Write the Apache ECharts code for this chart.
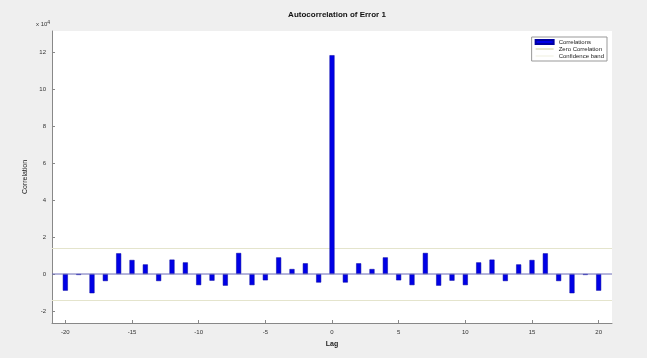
<!DOCTYPE html>
<html>
<head>
<meta charset="utf-8">
<script src="https://cdn.jsdelivr.net/npm/echarts@6/dist/echarts.min.js"></script>
<style>
html,body{margin:0;padding:0;background:#efefef;}
#c{width:647px;height:358px;}
</style>
</head>
<body>
<div id="c"></div>
<script>
// Data
const lags = [-20,-19,-18,-17,-16,-15,-14,-13,-12,-11,-10,-9,-8,-7,-6,-5,-4,-3,-2,-1,0,1,2,3,4,5,6,7,8,9,10,11,12,13,14,15,16,17,18,19,20];
const correlations = [-0.9,-0.05,-1.04,-0.38,1.12,0.76,0.52,-0.38,0.78,0.63,-0.6,-0.36,-0.63,1.14,-0.6,-0.34,0.9,0.27,0.58,-0.46,11.84,-0.46,0.58,0.27,0.9,-0.34,-0.6,1.14,-0.63,-0.36,-0.6,0.63,0.78,-0.38,0.52,0.76,1.12,-0.38,-1.04,-0.05,-0.9];
const confidenceBounds = [1.42, -1.42];
const xTicks = [-20,-15,-10,-5,0,5,10,15,20];
const yTicks = [-2,0,2,4,6,8,10,12];

const chart = echarts.init(document.getElementById('c'));
const font = 'Liberation Sans, Arial, sans-serif';
chart.setOption({
  backgroundColor: '#efefef',
  animation: false,
  title: {
    text: 'Autocorrelation of Error 1',
    left: 332, top: 6, textAlign: 'center',
    textStyle: {fontSize: 8, fontWeight: 'bold', color: '#111', fontFamily: font}
  },
  legend: {
    right: 40, top: 37, orient: 'vertical',
    backgroundColor: '#fff', borderColor: '#999', borderWidth: 1,
    padding: [2, 3], itemGap: 1, itemWidth: 18, itemHeight: 4,
    textStyle: {fontSize: 6, color: '#222', fontFamily: font},
    data: [
      {name: 'Correlations', icon: 'rect'},
      {name: 'Zero Correlation', icon: 'path://M0,5L20,5L20,6L0,6Z'},
      {name: 'Confidence band', icon: 'path://M0,5L20,5L20,6L0,6Z'}
    ]
  },
  grid: {left: 52, right: 35, top: 31, bottom: 35, show: true, backgroundColor: '#fff', borderWidth: 0},
  graphic: [{
    type: 'text', left: 36, top: 20,
    style: {
      text: '{a|x 10}{b|4}',
      rich: {a: {fontSize: 6, fill: '#333', fontFamily: font}, b: {fontSize: 5, fill: '#333', verticalAlign: 'top', padding: [0,0,4,0], fontFamily: font}}
    }
  }],
  xAxis: {
    type: 'value', min: -21, max: 21,
    name: 'Lag', nameLocation: 'middle', nameGap: 18,
    nameTextStyle: {fontSize: 7, fontWeight: 'bold', color: '#222', fontFamily: font},
    axisLine: {onZero: false, lineStyle: {color: '#888'}},
    axisTick: {inside: true, length: 3, customValues: xTicks, lineStyle: {color: '#888'}},
    axisLabel: {customValues: xTicks, fontSize: 6, color: '#333', margin: 6, fontFamily: font},
    splitLine: {show: false}
  },
  yAxis: {
    type: 'value', min: -2.65, max: 13.15,
    name: 'Correlation', nameLocation: 'middle', nameGap: 20,
    nameTextStyle: {fontSize: 7, color: '#222', fontFamily: font},
    axisLine: {show: true, onZero: false, lineStyle: {color: '#888'}},
    axisTick: {show: true, inside: true, length: 3, customValues: yTicks, lineStyle: {color: '#888'}},
    axisLabel: {customValues: yTicks, fontSize: 6, color: '#333', margin: 6, fontFamily: font},
    splitLine: {show: false}
  },
  series: [
    {
      name: 'Correlations', type: 'bar', barWidth: 5,
      itemStyle: {color: '#0000e6', borderColor: '#0000a0', borderWidth: 0.5},
      data: lags.map((l, i) => [l, correlations[i]]),
      z: 5
    },
    {
      name: 'Zero Correlation', type: 'line', showSymbol: false, symbol: 'none',
      lineStyle: {color: '#6a6ab8', width: 1},
      itemStyle: {color: '#c8c890'},
      data: [[-21, 0], [21, 0]], z: 6
    },
    {
      name: 'Confidence band', type: 'line', symbol: 'none', z: 1,
      lineStyle: {color: '#e4e4cc', width: 1},
      itemStyle: {color: '#ececdc'},
      data: [],
      markLine: {
        silent: true, symbol: 'none', label: {show: false}, z: 1,
        lineStyle: {color: '#e4e4cc', width: 1, type: 'solid'},
        data: confidenceBounds.map(v => ({yAxis: v}))
      }
    }
  ]
});
</script>
</body>
</html>
